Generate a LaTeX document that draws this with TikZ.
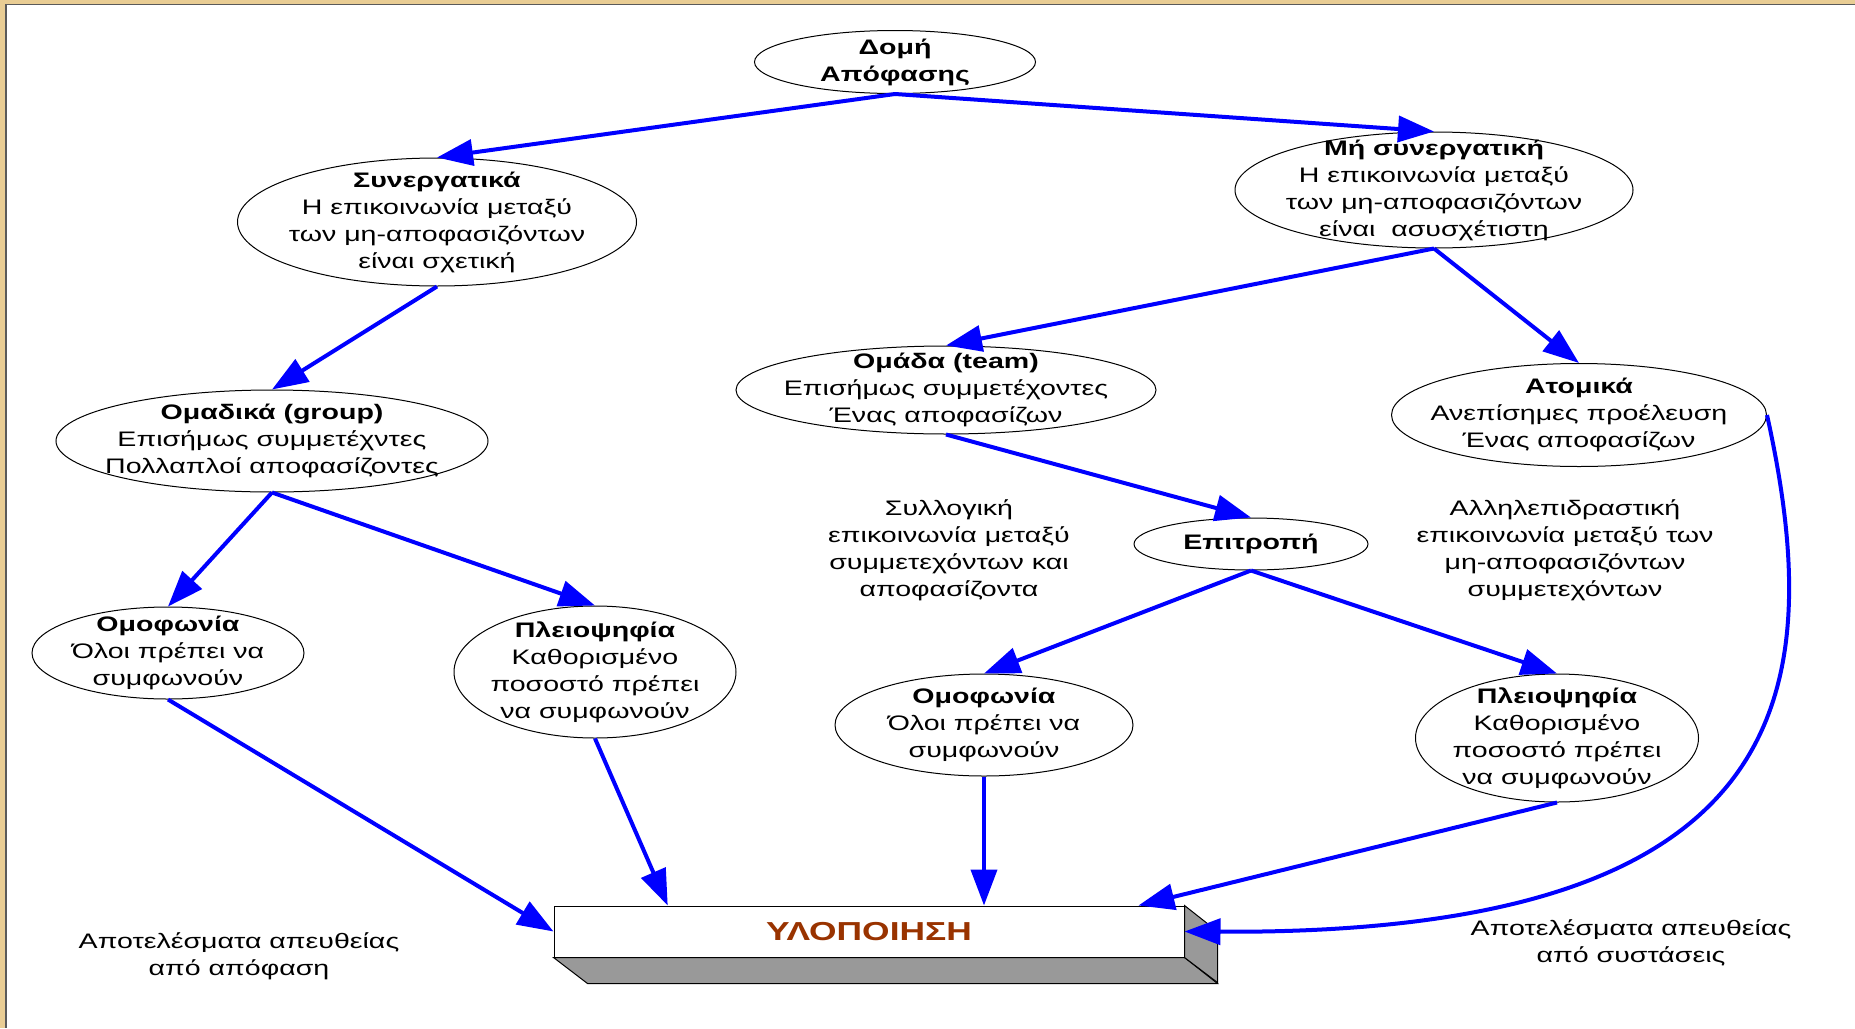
\documentclass[tikz,border=0pt]{standalone}
\usepackage{fontspec}
\setmainfont{Liberation Sans}[FakeStretch=1.36]
\usetikzlibrary{arrows.meta,shapes.geometric,calc}
\definecolor{linkblue}{RGB}{0,0,255}
\definecolor{rust}{RGB}{153,51,0}
\definecolor{framegold}{RGB}{233,205,148}
\definecolor{framedark}{RGB}{90,90,90}
\definecolor{sidegrey}{RGB}{153,153,153}

\begin{document}
\begin{tikzpicture}[x=1pt,y=-1pt,
  oval/.style={draw=black, line width=1pt, ellipse, inner sep=0pt},
  txt/.style={align=center, inner sep=0pt, font=\fontsize{21}{27}\selectfont},
  link/.style={draw=linkblue, line width=4pt,
    -{Triangle[length=36pt,width=26pt]}}
]
% canvas and frame
\fill[white] (0,0) rectangle (1855,1028);
\useasboundingbox (0,0) rectangle (1855,1028);
\fill[framegold] (0,0) rectangle (1855,3.6);
\fill[framegold] (0,0) rectangle (5.4,1028);
\fill[framedark] (5.4,3.6) rectangle (1855,4.8);
\fill[framedark] (5.4,3.6) rectangle (7,1028);

% decision nodes
\node[oval, minimum width=281pt, minimum height=63pt]  (dom)   at (895,62)   {};
\node[oval, minimum width=399pt, minimum height=128pt] (syn)   at (437,222)  {};
\node[oval, minimum width=398pt, minimum height=116pt] (mhsyn) at (1434,190) {};
\node[oval, minimum width=420pt, minimum height=88pt]  (team)  at (946,390)  {};
\node[oval, minimum width=375pt, minimum height=103pt] (atom)  at (1579,415) {};
\node[oval, minimum width=432pt, minimum height=102pt] (omad)  at (272,441)  {};
\node[oval, minimum width=234pt, minimum height=52pt]  (epit)  at (1251,544) {};
\node[oval, minimum width=272pt, minimum height=92pt]  (omofA) at (168,653)  {};
\node[oval, minimum width=282pt, minimum height=132pt] (pleiA) at (595,672)  {};
\node[oval, minimum width=298pt, minimum height=102pt] (omofB) at (984,725)  {};
\node[oval, minimum width=283pt, minimum height=128pt] (pleiB) at (1557,738) {};

\node[txt] (domT)   at (dom)   {\textbf{Δομή}\\\textbf{Απόφασης}};
\node[txt] (synT)   at (syn)   {\textbf{Συνεργατικά}\\Η επικοινωνία μεταξύ\\των μη-αποφασιζόντων\\είναι σχετική};
\node[txt] (mhsynT) at (mhsyn) {\textbf{Μή συνεργατική}\\Η επικοινωνία μεταξύ\\των μη-αποφασιζόντων\\είναι\ \ ασυσχέτιστη};
\node[txt] (teamT)  at (team)  {\textbf{Ομάδα (team)}\\Επισήμως συμμετέχοντες\\Ένας αποφασίζων};
\node[txt] (atomT)  at (atom)  {\textbf{Ατομικά}\\Ανεπίσημες προέλευση\\Ένας αποφασίζων};
\node[txt] (omadT)  at (omad)  {\textbf{Ομαδικά (group)}\\Επισήμως συμμετέχντες\\Πολλαπλοί αποφασίζοντες};
\node[txt] (epitT)  at (epit)  {\textbf{Επιτροπή}};
\node[txt] (omofAT) at (omofA) {\textbf{Ομοφωνία}\\Όλοι πρέπει να\\συμφωνούν};
\node[txt] (pleiAT) at (pleiA) {\textbf{Πλειοψηφία}\\Καθορισμένο\\ποσοστό πρέπει\\να συμφωνούν};
\node[txt] (omofBT) at (omofB) {\textbf{Ομοφωνία}\\Όλοι πρέπει να\\συμφωνούν};
\node[txt] (pleiBT) at (pleiB) {\textbf{Πλειοψηφία}\\Καθορισμένο\\ποσοστό πρέπει\\να συμφωνούν};

% free notes
\node[txt] (noteL) at (949,550)  {Συλλογική\\επικοινωνία μεταξύ\\συμμετεχόντων και\\αποφασίζοντα};
\node[txt] (noteR) at (1565,550) {Αλληλεπιδραστική\\επικοινωνία μεταξύ των\\μη-αποφασιζόντων\\συμμετεχόντων};
\node[txt] (resL)  at (239,956)  {Αποτελέσματα απευθείας\\από απόφαση};
\node[txt] (resR)  at (1631,943) {Αποτελέσματα απευθείας\\από συστάσεις};

% implementation block (3D bar)
\node[draw=black, line width=1pt, fill=white, minimum width=630pt, minimum height=51pt,
      inner sep=0pt] (impl) at (869,931.5) {};
\filldraw[fill=sidegrey, draw=black, line width=1pt]
  (impl.south west) -- (impl.south east) -- ++(33,26) -- ++(-630,0) -- cycle;
\filldraw[fill=sidegrey, draw=black, line width=1pt]
  (impl.north east) -- ++(33,26) -- ++(0,51) -- (impl.south east) -- cycle;
\node[font=\fontsize{26}{30}\selectfont\bfseries, text=rust, inner sep=0pt] (implT) at (impl) {ΥΛΟΠΟΙΗΣΗ};

% connectors
\draw[link] (dom.south) -- (syn.north);
\draw[link] (dom.south) -- (mhsyn.north);
\draw[link] (syn.south) -- (omad.north);
\draw[link] (mhsyn.south) -- (team.north);
\draw[link] (mhsyn.south) -- (atom.north);
\draw[link] (team.south) -- (epit.north);
\draw[link] (omad.south) -- (omofA.north);
\draw[link] (omad.south) -- (pleiA.north);
\draw[link] (epit.south) -- (omofB.north);
\draw[link] (epit.south) -- (pleiB.north);
\draw[link] (omofA.south) -- (impl.west);
\draw[link] (pleiA.south) -- ($(impl.north west)!0.181!(impl.north east)$);
\draw[link] (omofB.south) -- (impl.north -| omofB.south);
\draw[link] (pleiB.south) -- ($(impl.north west)!0.927!(impl.north east)$);
\draw[link] (atom.east) .. controls (1830,700) and (1790,935) .. (impl.east);
\end{tikzpicture}
\end{document}
